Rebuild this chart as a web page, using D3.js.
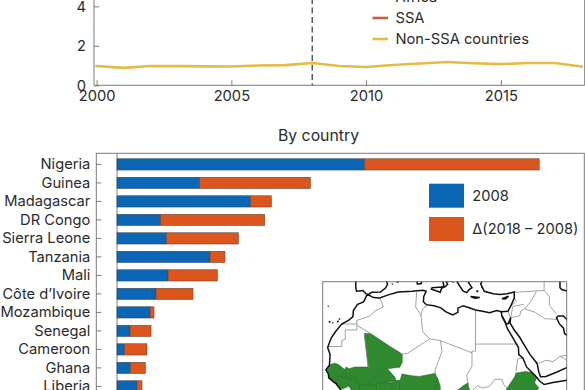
<!DOCTYPE html>
<html>
<head>
<meta charset="utf-8">
<script src="https://cdn.jsdelivr.net/npm/d3@7"></script>
<style>
  html, body { margin: 0; padding: 0; background: #fff; overflow: hidden; }
  svg { display: block; }
  text { font-family: Inter, "Open Sans", sans-serif; fill: #2b2b2b; }
  .axis path, .axis line { stroke: #7a7a7a; }
</style>
</head>
<body>
<div id="chart"></div>
<script>
// line chart data, cases
var years = [2000, 2001, 2002, 2003, 2004, 2005, 2006, 2007, 2008, 2009, 2010, 2011, 2012, 2013, 2014, 2015, 2016, 2017, 2018];
var nonSsa = [0.97, 0.88, 0.98, 0.97, 0.96, 0.95, 1.0, 1.02, 1.13, 0.98, 0.93, 1.03, 1.1, 1.18, 1.12, 1.07, 1.13, 1.13, 0.95];
var lineLegend = ["Africa", "SSA", "Non-SSA countries"];
var yTicks = [0, 2, 4];
var xTicks = [2000, 2005, 2010, 2015];
var markerYear = 2008;

// bar chart data
var countries = ["Nigeria", "Guinea", "Madagascar", "DR Congo", "Sierra Leone", "Tanzania", "Mali", "Côte d’Ivoire", "Mozambique", "Senegal", "Cameroon", "Ghana", "Liberia"];
var value2008 = [16.5, 5.5, 8.9, 2.9, 3.3, 6.2, 3.4, 2.6, 2.2, 0.87, 0.5, 0.9, 1.33];
var delta = [11.65, 7.4, 1.4, 6.95, 4.8, 1.0, 3.3, 2.47, 0.27, 1.4, 1.5, 1.0, 0.34];
var barLegend = ["2008", "Δ(2018 – 2008)"];

// inset map, lon/lat outlines
var mapGreen = [
  [[-17.2,14.7],[-16.4,16.1],[-15,16.6],[-13.8,16.1],[-12.2,14.8],[-11.5,12.4],[-13.7,12.6],[-16.7,12.4],[-16.8,13.5]],
  [[-16.7,12.4],[-13.7,12.6],[-15,11]],
  [[-13.7,12.6],[-11.5,12.4],[-10.7,12],[-9,12.5],[-8,10.3],[-7.7,8.5],[-9,7.5],[-10,8.5],[-11,10],[-13.3,9],[-15,11]],
  [[-6.6,25],[-4.8,25],[1.2,21],[3.2,19.8],[4.2,19.1],[4.2,16.8],[3.5,15.4],[0,15],[-1,14.8],[-3,13.7],[-4.5,12],[-5.5,10.4],[-6.5,10.5],[-8,10.3],[-9,12.5],[-10.7,12],[-11.5,12.4],[-12.2,14.8],[-11.7,15.5],[-10.9,15],[-9.3,15.5],[-5.5,15.5]],
  [[-5.5,10.4],[-4.5,12],[-3,13.7],[-1,14.8],[0,15],[2.2,12.5],[2.3,11.7],[0,11],[-2.9,11],[-3,9.9]],
  [[-8,10.3],[-6.5,10.5],[-5.5,10.4],[-3,9.9],[-2.9,8],[-8,7.5]],
  [[-2.9,11],[0,11],[0.9,11],[1.5,9],[1.5,7],[-2.9,7]],
  [[0.9,11],[2.3,11.7],[3.6,11.7],[3.6,9],[2.8,7],[1.5,7],[1.5,9]],
  [[3.6,11.7],[4.1,13.5],[7,13],[9,12.8],[13.6,13.7],[14.2,12],[13.5,9],[12,7],[3,7],[3.6,9]],
  [[14.2,12.5],[15,10],[15,8],[12,7],[13.5,9]],
  [[22.9,11],[21.6,10.2],[20.3,9.2],[19,8.5],[23.5,8.5],[23,10]],
  [[36.1,12.7],[36.5,13.8],[37.5,13.9],[39,14.2],[40.8,14],[42.4,12.5],[41.8,11],[43,9.5],[42,8],[33,8],[34,9.5],[35,11]]
];
var mapCoast = [
  [[-13.3,9],[-14.6,10.8],[-15,11],[-16.7,12.4],[-16.8,13.5],[-17.5,14.7],[-16.5,16],[-16.3,19],[-17,21],[-16,23.7],[-14.8,25.5],[-13,27.7],[-11,28.8],[-9.8,29.8],[-9.7,31.5],[-8.5,33.3],[-6.8,34],[-5.9,35.8],[-5.3,35.9],[-4,35.2],[-2.2,35.1],[0,35.9],[3,36.8],[7,37],[10,37.3],[11,37],[10.3,35.5],[10.2,34],[11,33.2],[13.2,32.9],[15.2,32.3],[16.5,31.2],[18.5,30.3],[20,31],[20,32.2],[21.5,32.9],[23.2,32.3],[25,31.7],[27,31.3],[29,30.9],[31,31.5],[32.3,31.2],[34.2,31.3],[35,32.8],[36,35],[36,36.8],[34,36.3],[32,36.1],[30,36.3],[27.5,37],[26.5,39],[27,40.5]],
  [[32.3,31.2],[32.5,30],[33.5,28],[34,26.5],[35.5,24],[37.2,21],[37.3,19],[38.5,18],[39.5,15.5],[42,13],[43.2,11.5],[44.5,10.5],[47,11.1],[52,11.9]],
  [[32.5,30],[33.7,27.8],[34.3,27.8],[35,29.5],[34.8,28],[36,26],[37.5,24],[39,21.5],[40.5,19],[42.5,16.5],[43,14],[43.5,12.7],[45,12.8],[48,14],[52,15.8]],
  [[52,24.5],[51,24.5],[50.3,25],[50,26.5],[48.8,27.8],[48,29.5],[48.5,30],[50,30],[52,27.8]],
  [[49,40.5],[49,38],[49.5,37.5],[52,36.8]],
  [[-9,40],[-9,38],[-8.8,37],[-7,37.2],[-6,36.2],[-5.4,36.1],[-4.5,36.7],[-2,36.8],[-0.5,38],[0,39],[-0.3,40]],
  [[8.3,40],[8.5,39],[9.6,39.2],[9.7,40]],
  [[12.5,38],[15.5,38.2],[15,36.7],[12.5,37.6],[12.5,38]],
  [[15.5,40.5],[16,38.8],[15.7,38],[16.5,38.4],[17.1,39],[16.6,39.8],[18,40],[18.4,39.8],[18,40.5]],
  [[19.3,40.5],[20.5,38.5],[21.5,37],[22.5,36.6],[23.2,37.5],[24,38],[23,39.5],[24,40.5]],
  [[23.6,35.5],[26.2,35.2],[24.8,35],[23.6,35.5]],
  [[32.5,34.9],[34.4,35.6],[33.5,34.8],[32.5,34.9]],
  [[25.2,37.1],[25.6,37],[25.4,36.8]],
  [[26.8,38.3],[27,37.9]],
  [[-16.7,28.2],[-16.2,28.4]],
  [[-15.7,28],[-15.4,28.1]],
  [[-14.3,28.2],[-13.9,28.6]],
  [[-13.8,29],[-13.5,29.2]],
  [[-17,32.7],[-16.7,32.8]],
  [[1.2,39],[1.5,39.1]],
  [[2.5,39.6],[3.3,39.8]]
];
var mapBorders = [
  [[-2.2,35.1],[-1.7,34],[-1.2,32.5],[-3.5,31.5],[-5,30],[-8.7,28.7],[-8.7,27.3]],
  [[-13,27.7],[-8.7,27.7]],
  [[-8.7,27.3],[-8.7,26],[-12,26],[-12,23.4],[-13,23],[-13,21.3],[-17,21.3]],
  [[-8.7,27.3],[-4.8,25]],
  [[-6.6,25],[-5.5,15.5],[-5,15.5]],
  [[5.8,19.4],[12,23.5],[10,25.5],[9.5,30.2],[8,32.5],[8.3,36.9]],
  [[4.2,19.1],[5.8,19.4]],
  [[9.5,30.2],[10,32],[11.5,33.1]],
  [[12,23.5],[15,23],[24,19.5],[24,20],[25,20],[25,31.7]],
  [[25,22],[37,22]],
  [[15,23],[15.5,20],[13.5,14.5],[13.6,13.7]],
  [[24,19.5],[24,15.7],[22.5,13],[22.9,11]],
  [[24,8.7],[25.5,10.2],[27,9.5],[29,10],[30.5,12],[32.5,12],[33,10.5],[34,9.5]],
  [[36.5,14.3],[37,17.8],[38.6,18]],
  [[35,29.5],[37.5,30],[38,31.5],[39,32],[42,31],[44.7,29.2],[46.5,29.1],[48,29]],
  [[39,32],[41,34.5],[42.3,37]],
  [[36.2,36.7],[42.3,37.1],[44.5,37.2]],
  [[44.5,37.2],[46,35.5],[46,33],[48,30.5]],
  [[44.5,37.2],[44.5,40]],
  [[35,29.5],[35.6,32.7],[38.8,33.3]],
  [[35,32.8],[35.8,33.4],[36.6,34.2],[36,35]],
  [[34.2,31.3],[34.9,29.5]],
  [[43,16.5],[45,17.4],[47,17],[49,18.5],[52,19]],
  [[52,16.5],[50,18],[49,18.5]],
  [[42.4,12.7],[43.2,11.5]]
];

var width = 585, height = 390;

var svg = d3.select("#chart").append("svg")
    .attr("width", width)
    .attr("height", height);


// top panel
var x = d3.scaleLinear().domain([2000, 2018]).range([96.6, 581.7]);
var y = d3.scaleLinear().domain([0, 4]).range([85.3, 6.3]);
var panel = { left: 94, right: 584.7, bottom: 85.3 };

svg.append("path")
    .attr("d", "M" + panel.left + ",-5V" + panel.bottom + "H" + panel.right + "V-5")
    .attr("fill", "none")
    .attr("stroke", "#7a7a7a");

var yAxis = d3.axisLeft(y).tickValues(yTicks).tickSize(-5).tickPadding(8).tickFormat(d3.format("d"));
svg.append("g")
    .attr("class", "axis")
    .attr("transform", "translate(" + panel.left + ",0)")
    .call(yAxis)
    .call(function(g) { g.select(".domain").remove(); })
    .selectAll("text").style("font-size", "14.7px");

var xAxis = d3.axisBottom(x).tickValues(xTicks).tickSize(-5).tickPadding(5).tickFormat(d3.format("d"));
svg.append("g")
    .attr("class", "axis")
    .attr("transform", "translate(0," + panel.bottom + ")")
    .call(xAxis)
    .call(function(g) { g.select(".domain").remove(); })
    .selectAll("text").style("font-size", "14.7px");

svg.append("line")
    .attr("x1", x(markerYear)).attr("x2", x(markerYear))
    .attr("y1", -2).attr("y2", panel.bottom)
    .attr("stroke", "#333")
    .attr("stroke-width", 1.2)
    .attr("stroke-dasharray", "6,3.5");

var line = d3.line()
    .x(function(d, i) { return x(years[i]); })
    .y(function(d) { return y(d); });

svg.append("path")
    .datum(nonSsa)
    .attr("d", line)
    .attr("fill", "none")
    .attr("stroke", "#e6bb45")
    .attr("stroke-width", 2.6)
    .attr("stroke-linecap", "square");

// legend of the line chart
var lineLegendY = [-3, 18, 39];
var lineLegendColor = ["#fff", "#c6603a", "#e6bb45"];
lineLegend.forEach(function(name, i) {
    svg.append("line")
        .attr("x1", 372.5).attr("x2", 388)
        .attr("y1", lineLegendY[i]).attr("y2", lineLegendY[i])
        .attr("stroke", lineLegendColor[i])
        .attr("stroke-width", 2.6);
    svg.append("text")
        .attr("x", 395.5)
        .attr("y", lineLegendY[i])
        .attr("dy", "0.35em")
        .style("font-size", "14.7px")
        .text(name);
});


// bottom panel
svg.append("text")
    .attr("x", 318.5)
    .attr("y", 135)
    .attr("dy", "0.35em")
    .attr("text-anchor", "middle")
    .style("font-size", "15.8px")
    .text("By country");

var frame = { left: 96.3, right: 584.3, top: 153.3 };

svg.append("rect")
    .attr("x", frame.left)
    .attr("y", frame.top)
    .attr("width", frame.right - frame.left)
    .attr("height", 260)
    .attr("fill", "none")
    .attr("stroke", "#7a7a7a");

var xBar = d3.scaleLinear().domain([0, 15]).range([117, 342]);
var yBar = d3.scaleBand().domain(countries).range([155.15, 395.65]).paddingInner(0.39).paddingOuter(0.195);

svg.append("line")
    .attr("x1", xBar(0)).attr("x2", xBar(0))
    .attr("y1", frame.top).attr("y2", height + 5)
    .attr("stroke", "#7a7a7a");

var countryAxis = d3.axisLeft(yBar).tickSize(-5).tickPadding(6);
svg.append("g")
    .attr("class", "axis")
    .attr("transform", "translate(" + frame.left + ",0)")
    .call(countryAxis)
    .call(function(g) { g.select(".domain").remove(); })
    .selectAll("text").style("font-size", "14.7px");

svg.selectAll(".bar2008")
    .data(countries)
    .enter().append("rect")
    .attr("class", "bar2008")
    .attr("x", xBar(0))
    .attr("y", function(d) { return yBar(d); })
    .attr("width", function(d, i) { return xBar(value2008[i]) - xBar(0); })
    .attr("height", yBar.bandwidth())
    .attr("fill", "#0b67b6")
    .attr("stroke", "#33414d")
    .attr("stroke-width", 0.5);

svg.selectAll(".barDelta")
    .data(countries)
    .enter().append("rect")
    .attr("class", "barDelta")
    .attr("x", function(d, i) { return xBar(value2008[i]); })
    .attr("y", function(d) { return yBar(d); })
    .attr("width", function(d, i) { return xBar(delta[i]) - xBar(0); })
    .attr("height", yBar.bandwidth())
    .attr("fill", "#db551c")
    .attr("stroke", "#5a4034")
    .attr("stroke-width", 0.5);

// legend of the bars
var barLegendY = [183.7, 217];
var barLegendColor = ["#0b67b6", "#db551c"];
barLegend.forEach(function(name, i) {
    svg.append("rect")
        .attr("x", 429)
        .attr("y", barLegendY[i])
        .attr("width", 35)
        .attr("height", 24)
        .attr("fill", barLegendColor[i]);
    svg.append("text")
        .attr("x", 472.3)
        .attr("y", barLegendY[i] + 12)
        .attr("dy", "0.35em")
        .style("font-size", "14.7px")
        .text(name);
});


// inset map
var map = { left: 322.7, right: 566.7, top: 281.7 };

svg.append("clipPath")
    .attr("id", "map-clip")
    .append("rect")
    .attr("x", map.left)
    .attr("y", map.top)
    .attr("width", map.right - map.left)
    .attr("height", height - map.top + 5);

svg.append("rect")
    .attr("x", map.left)
    .attr("y", map.top)
    .attr("width", map.right - map.left)
    .attr("height", height - map.top + 20)
    .attr("fill", "#fff")
    .attr("stroke", "#7a7a7a");

var projection = d3.geoEquirectangular()
    .scale(3.52 * 180 / Math.PI)
    .translate([387.5, 421.5]);

var mapLine = d3.line()
    .x(function(d) { return projection(d)[0]; })
    .y(function(d) { return projection(d)[1]; });

var mapG = svg.append("g").attr("clip-path", "url(#map-clip)");

mapG.selectAll(".land")
    .data(mapGreen)
    .enter().append("path")
    .attr("class", "land")
    .attr("d", function(d) { return mapLine(d) + "Z"; })
    .attr("fill", "#2f8a2f")
    .attr("stroke", "#24602a")
    .attr("stroke-width", 0.5);

mapG.selectAll(".border")
    .data(mapBorders)
    .enter().append("path")
    .attr("class", "border")
    .attr("d", mapLine)
    .attr("fill", "none")
    .attr("stroke", "#8a8a8a")
    .attr("stroke-width", 0.8);

mapG.selectAll(".coast")
    .data(mapCoast)
    .enter().append("path")
    .attr("class", "coast")
    .attr("d", mapLine)
    .attr("fill", "none")
    .attr("stroke", "#111")
    .attr("stroke-width", 1.5);
</script>
</body>
</html>
